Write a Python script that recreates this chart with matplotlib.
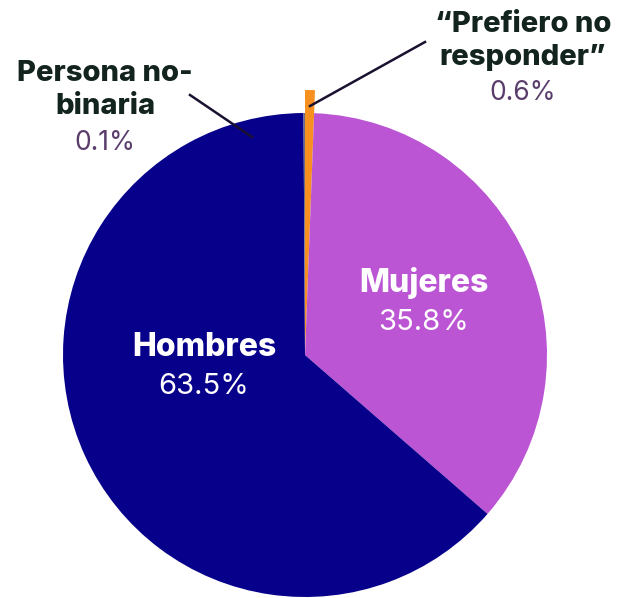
import matplotlib.pyplot as plt

# slice order: clockwise from 12 o'clock
labels = ['“Prefiero no\nresponder”', 'Mujeres', 'Hombres', 'Persona no-\nbinaria']
shares = [0.6, 35.8, 63.5, 0.1]
colors = ['#f7901e', '#bb55d4', '#06008a', '#6b6b8a']

dark = '#13241f'
muted = '#5a3d6b'
plt.rcParams['font.family'] = ['Inter', 'DejaVu Sans']

fig = plt.figure(figsize=(6.18, 5.98), dpi=100)
ax = fig.add_axes([0, 0, 1, 1])

H = 598
cx, cy, r = 305, H - 355, 242
wedges, _ = ax.pie(shares, colors=colors, startangle=90, counterclock=False,
                   center=(cx, cy), radius=r, frame=True,
                   wedgeprops=dict(linewidth=0))
# the small orange slice sticks out past the rim
wedges[0].set_radius(265)
ax.set_xlim(0, 618)
ax.set_ylim(0, 598)
ax.set_aspect('equal')
ax.axis('off')

def pct(v):
    return '%.1f%%' % v

# inside labels
ax.text(424, H - 283, labels[1], color='white', fontsize=23, fontweight='heavy', ha='center', va='center')
ax.text(424, H - 322, pct(shares[1]), color='white', fontsize=21, ha='center', va='center')
ax.text(204, H - 348, labels[2], color='white', fontsize=23, fontweight='heavy', ha='center', va='center')
ax.text(204, H - 386, pct(shares[2]), color='white', fontsize=21, ha='center', va='center')

# outside labels
ax.text(523, H - 41, labels[0], color=dark, fontsize=21, fontweight='heavy', ha='center', va='center',
        linespacing=1.25)
ax.text(523, H - 93, pct(shares[0]), color=muted, fontsize=19, ha='center', va='center')
ax.text(105, H - 90, labels[3], color=dark, fontsize=21, fontweight='heavy', ha='center', va='center',
        linespacing=1.25)
ax.text(105, H - 143, pct(shares[3]), color=muted, fontsize=19, ha='center', va='center')

# leader lines
ax.plot([425, 310], [H - 42, H - 106], color='#1a1030', lw=1.8)
ax.plot([190, 252], [H - 95, H - 137], color='#1a1030', lw=1.8)

fig.savefig('out.png', dpi=100, facecolor='white')
